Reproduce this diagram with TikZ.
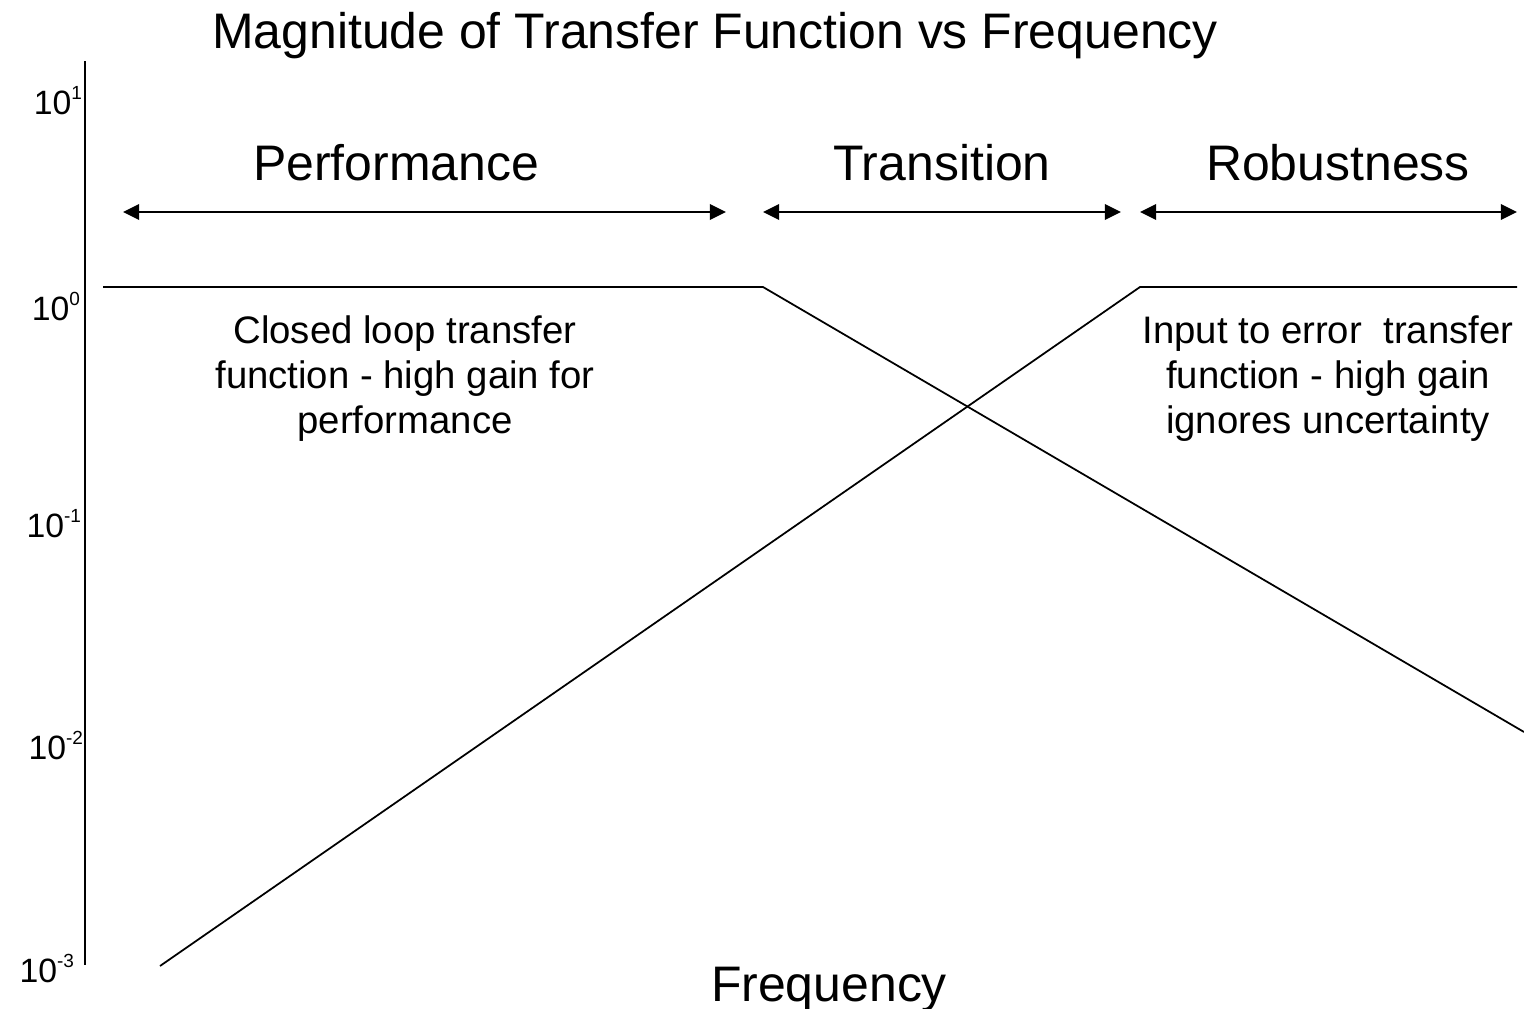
\documentclass[tikz,border=0pt]{standalone}
\usepackage{fontspec}
\setmainfont{Liberation Sans}
\usetikzlibrary{arrows.meta}
\newcommand{\tenpow}[1]{10\raisebox{4.2pt}{\fontsize{5.4}{6}\selectfont #1}}
\begin{document}
\begin{tikzpicture}[x=0.01cm,y=-0.01cm,
  big/.style={inner sep=0pt,anchor=base,font=\fontsize{14.2}{17}\selectfont},
  body/.style={inner sep=0pt,anchor=north,align=center,font=\fontsize{10.9}{12.8}\selectfont},
  tick/.style={inner sep=0pt,outer sep=0pt,anchor=base east,font=\fontsize{9.6}{12}\selectfont},
  curve/.style={line width=0.5pt},
  span/.style={line width=0.6pt,{Triangle[length=4.6pt,width=4.4pt]}-{Triangle[length=4.6pt,width=4.4pt]}}]
\useasboundingbox (0,0) rectangle (1524,1009);
% title and axis label
\node[big] (title) at (715,48) {Magnitude of Transfer Function vs Frequency};
\node[big] (freq) at (829,1001) {Frequency};
% axis
\coordinate (atop) at (85,61);
\coordinate (abot) at (85,965);
\draw[line width=0.45pt] (atop) -- (abot);
% tick labels
\node[tick] (t1) at (82,114) {\tenpow{1}};
\node[tick] (t0) at (80,320) {\tenpow{0}};
\node[tick] (tm1) at (81,537) {\tenpow{-1}};
\node[tick] (tm2) at (83,759) {\tenpow{-2}};
\node[tick] (tm3) at (74,982) {\tenpow{-3}};
% region labels
\node[big] (perf) at (396,180) {Performance};
\node[big] (trans) at (942,180) {Transition};
\node[big] (rob) at (1338,180) {Robustness};
% region arrows
\coordinate (p1) at (123,212); \coordinate (p2) at (726,212);
\coordinate (q1) at (763,212); \coordinate (q2) at (1121,212);
\coordinate (r1) at (1140,212); \coordinate (r2) at (1517,212);
\draw[span] (p1) -- (p2);
\draw[span] (q1) -- (q2);
\draw[span] (r1) -- (r2);
% curves
\coordinate (c1a) at (103,287); \coordinate (c1b) at (763,287); \coordinate (c1c) at (1524,732);
\coordinate (c2a) at (160,966); \coordinate (c2b) at (1140,287); \coordinate (c2c) at (1517,287);
\draw[curve] (c1a) -- (c1b) -- (c1c);
\draw[curve] (c2a) -- (c2b) -- (c2c);
% descriptions
\node[body] (cl) at (405,315) {Closed loop transfer\\function - high gain for\\performance};
\node[body] (ie) at (1328,315) {Input to error\ \ transfer\\function - high gain\\ignores uncertainty};
\end{tikzpicture}
\end{document}
